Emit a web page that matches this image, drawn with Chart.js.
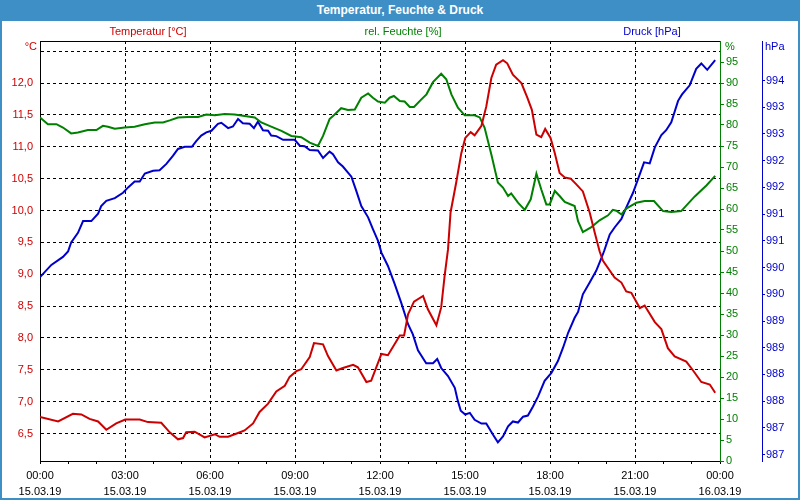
<!DOCTYPE html>
<html>
<head>
<meta charset="utf-8">
<script src="https://cdn.jsdelivr.net/npm/chart.js@4.4.1/dist/chart.umd.min.js"></script>
<style>
  html, body { margin: 0; padding: 0; background: #ffffff; }
  #stage { position: relative; width: 800px; height: 500px; overflow: hidden; }
  #titlebar { position: absolute; left: 0; top: 0; width: 800px; height: 21px; background: #3d8fc6;
    color: #ffffff; font: bold 12px "Liberation Sans", Arial, sans-serif; line-height: 21px; text-align: center; }
  #frame { position: absolute; left: 0; top: 0; width: 800px; height: 500px; box-sizing: border-box;
    border: 2px solid #3d8fc6; pointer-events: none; }
  canvas { position: absolute; left: 0; top: 0; }
</style>
</head>
<body>
<div id="stage">
  <div id="titlebar">Temperatur, Feuchte &amp; Druck</div>
  <canvas id="c" width="800" height="500"></canvas>
  <div id="frame"></div>
</div>
<script>
// ---- data (hours since 15.03.19 00:00) ----
const tempHours = [0,0.64,1.16,1.46,1.75,2.05,2.34,2.69,3.01,3.52,
  3.81,4.28,4.58,4.87,5.05,5.16,5.46,5.81,6.17,6.34,
  6.64,6.99,7.22,7.52,7.75,8.05,8.34,8.64,8.81,9.05,
  9.22,9.52,9.67,9.99,10.16,10.46,10.69,11.05,11.22,11.52,
  11.69,12.05,12.28,12.70,12.85,12.99,13.20,13.52,13.69,13.99,
  14.16,14.28,14.40,14.49,14.69,14.87,15.01,15.20,15.34,15.58,
  15.75,15.93,16.10,16.34,16.49,16.69,16.99,17.20,17.36,17.52,
  17.69,17.83,18.02,18.17,18.34,18.52,18.73,18.93,19.16,19.40,
  19.58,19.75,19.87,20.28,20.52,20.69,20.87,21.17,21.34,21.70,
  21.93,22.16,22.40,22.81,23.05,23.34,23.64,23.83];
const tempValues = [6.76,6.69,6.81,6.80,6.73,6.69,6.56,6.66,6.72,6.72,
  6.68,6.67,6.52,6.41,6.43,6.52,6.53,6.44,6.49,6.45,
  6.45,6.51,6.55,6.66,6.84,6.97,7.16,7.25,7.39,7.48,
  7.51,7.70,7.92,7.90,7.72,7.49,7.53,7.58,7.54,7.31,
  7.33,7.75,7.73,8.04,8.04,8.37,8.57,8.66,8.45,8.20,
  8.48,8.97,9.39,9.97,10.44,10.90,11.14,11.23,11.18,11.33,
  11.63,12.08,12.29,12.36,12.31,12.13,12.00,11.77,11.58,11.19,
  11.15,11.28,11.14,10.90,10.59,10.52,10.50,10.41,10.30,9.97,
  9.65,9.36,9.21,8.95,8.87,8.73,8.71,8.47,8.51,8.25,
  8.14,7.84,7.71,7.63,7.49,7.31,7.27,7.14];

const humHours = [0,0.28,0.58,0.81,1.10,1.34,1.69,1.99,2.22,2.40,
  2.64,2.99,3.34,3.70,4.05,4.34,4.58,4.87,5.22,5.58,
  5.87,6.17,6.52,6.87,7.28,7.58,7.81,8.16,8.52,8.87,
  9.22,9.52,9.81,9.99,10.22,10.40,10.63,10.87,11.11,11.34,
  11.58,11.75,11.93,12.17,12.34,12.49,12.70,12.87,13.05,13.20,
  13.46,13.64,13.87,14.16,14.34,14.52,14.75,14.99,15.34,15.52,
  15.69,15.93,16.16,16.34,16.52,16.63,16.87,17.11,17.32,17.52,
  17.69,17.87,17.99,18.17,18.34,18.52,18.87,18.99,19.16,19.46,
  19.75,20.05,20.22,20.34,20.52,20.69,21.05,21.34,21.67,21.99,
  22.28,22.63,23.11,23.52,23.83];
const humValues = [81.8,80.2,80.2,79.4,78.0,78.2,78.8,78.8,79.8,79.6,
  79.1,79.4,79.6,80.2,80.6,80.6,81.1,81.8,81.9,81.9,
  82.5,82.3,82.6,82.5,82.1,81.8,80.6,79.6,78.6,77.4,
  77.1,75.8,75.0,77.4,81.4,82.5,84.0,83.6,83.7,86.5,
  87.5,86.5,85.6,85.3,86.5,86.9,85.7,85.6,84.3,84.3,
  86.1,87.3,90.2,92.2,90.9,87.3,84.1,82.3,82.3,81.8,
  79.4,73.0,66.3,65.1,63.1,63.7,61.5,59.8,62.3,68.4,
  64.7,61.1,61.1,64.3,63.1,61.7,60.7,57.1,54.5,55.7,
  57.3,58.5,59.8,59.6,58.7,60.1,61.5,61.9,61.9,59.5,
  59.3,59.5,63.0,65.6,67.9];

const pressHours = [0,0.40,0.81,0.99,1.10,1.34,1.52,1.81,2.05,2.16,
  2.34,2.64,2.93,3.11,3.34,3.52,3.70,3.99,4.22,4.46,
  4.69,4.87,5.11,5.36,5.52,5.69,5.87,6.05,6.28,6.40,
  6.64,6.81,6.99,7.16,7.40,7.55,7.69,7.87,8.05,8.16,
  8.34,8.58,8.99,9.17,9.34,9.52,9.81,9.99,10.22,10.34,
  10.52,10.69,10.99,11.16,11.34,11.58,11.75,11.93,12.05,12.28,
  12.52,12.75,12.99,13.16,13.34,13.63,13.87,14.02,14.16,14.40,
  14.64,14.75,14.85,15.01,15.17,15.34,15.58,15.75,15.99,16.16,
  16.34,16.52,16.69,16.87,17.05,17.22,17.40,17.58,17.81,18.05,
  18.28,18.46,18.64,18.87,18.99,19.16,19.40,19.63,19.81,19.91,
  20.11,20.28,20.52,20.69,20.93,21.11,21.32,21.52,21.70,21.93,
  22.10,22.28,22.52,22.66,22.93,23.16,23.34,23.55,23.83];
const pressValues = [990.32,990.55,990.70,990.80,990.97,991.15,991.37,991.37,991.51,991.65,
  991.75,991.80,991.90,992.00,992.11,992.11,992.26,992.31,992.32,992.44,
  992.59,992.72,992.76,992.76,992.87,992.97,993.03,993.06,993.19,993.21,
  993.11,993.14,993.28,993.20,993.19,993.11,993.23,993.07,993.06,992.97,
  992.96,992.89,992.89,992.78,992.77,992.70,992.69,992.55,992.67,992.62,
  992.47,992.39,992.20,991.94,991.65,991.44,991.22,991.00,990.78,990.53,
  990.19,989.84,989.44,989.25,988.95,988.71,988.71,988.79,988.62,988.47,
  988.25,988.00,987.82,987.75,987.78,987.65,987.58,987.58,987.37,987.23,
  987.34,987.53,987.62,987.60,987.71,987.73,987.90,988.09,988.38,988.53,
  988.75,989.00,989.28,989.56,989.67,990.00,990.22,990.44,990.67,990.81,
  991.12,991.25,991.41,991.62,991.90,992.16,992.47,992.45,992.75,992.98,
  993.07,993.22,993.62,993.74,993.91,994.22,994.32,994.20,994.38];

// ---- tick labels ----
const timeTicks = [0,3,6,9,12,15,18,21,24];
const timeLabels = ['00:00','03:00','06:00','09:00','12:00','15:00','18:00','21:00','00:00'];
const dateLabels = ['15.03.19','15.03.19','15.03.19','15.03.19','15.03.19','15.03.19','15.03.19','15.03.19','16.03.19'];
const tempTicks = [6.5,7.0,7.5,8.0,8.5,9.0,9.5,10.0,10.5,11.0,11.5,12.0,12.5];
const humTicks = [0,5,10,15,20,25,30,35,40,45,50,55,60,65,70,75,80,85,90,95];
const pressTicks = [987,987.5,988,988.5,989,989.5,990,990.5,991,991.5,992,992.5,993,993.5,994];
const seriesNames = ['Temperatur [°C]', 'rel. Feuchte [%]', 'Druck [hPa]'];
const unitNames = ['°C', '%', 'hPa'];

const RED = '#cc0000', GREEN = '#008000', BLUE = '#0000cc';
const FONT = '"Liberation Sans", Arial, sans-serif';

function pts(xs, ys) { return xs.map((x, i) => ({ x: x, y: ys[i] })); }
function setTicks(list) { return function (scale) { scale.ticks = list.map(v => ({ value: v })); }; }

const extras = {
  id: 'extras',
  afterDraw(chart) {
    const ctx = chart.ctx, a = chart.chartArea;
    ctx.save();
    // top frame line of the plot
    ctx.strokeStyle = '#000'; ctx.lineWidth = 1;
    ctx.beginPath(); ctx.moveTo(a.left, Math.round(a.top) + 0.5); ctx.lineTo(a.right, Math.round(a.top) + 0.5); ctx.stroke();
    // series names
    ctx.font = '11px ' + FONT; ctx.textBaseline = 'middle'; ctx.textAlign = 'center';
    ctx.fillStyle = RED;   ctx.fillText(seriesNames[0], 148, 32);
    ctx.fillStyle = GREEN; ctx.fillText(seriesNames[1], 403, 32);
    ctx.fillStyle = BLUE;  ctx.fillText(seriesNames[2], 652, 32);
    // unit labels
    ctx.textAlign = 'right'; ctx.fillStyle = RED; ctx.fillText(unitNames[0], 37, 47);
    const h = chart.scales.yH, p = chart.scales.yP;
    ctx.textAlign = 'left';
    ctx.fillStyle = GREEN; ctx.fillText(unitNames[1], h.left + 5, 47);
    ctx.fillStyle = BLUE;  ctx.fillText(unitNames[2], p.left + 3, 47);
    ctx.restore();
  }
};

new Chart(document.getElementById('c'), {
  type: 'line',
  data: {
    datasets: [
      { label: seriesNames[0], data: pts(tempHours, tempValues), yAxisID: 'yT', borderColor: RED, borderWidth: 2, pointRadius: 0, tension: 0 },
      { label: seriesNames[1], data: pts(humHours, humValues), yAxisID: 'yH', borderColor: GREEN, borderWidth: 2, pointRadius: 0, tension: 0 },
      { label: seriesNames[2], data: pts(pressHours, pressValues), yAxisID: 'yP', borderColor: BLUE, borderWidth: 2, pointRadius: 0, tension: 0 }
    ]
  },
  options: {
    responsive: false,
    animation: false,
    devicePixelRatio: 1,
    layout: { padding: { top: 41, left: 0, right: 0, bottom: 0 } },
    plugins: { legend: { display: false }, tooltip: { enabled: false }, title: { display: false } },
    scales: {
      x: {
        type: 'linear', position: 'bottom', min: 0, max: 24,
        afterBuildTicks: function (scale) {
          const t = []; for (let i = 0; i <= 24; i++) t.push({ value: i }); scale.ticks = t;
        },
        afterFit: function (scale) { scale.height = 39; },
        ticks: {
          autoSkip: false, maxRotation: 0, minRotation: 0, padding: 4, color: '#000',
          font: { family: FONT, size: 11, lineHeight: 1.45 },
          callback: function (v) { const i = timeTicks.indexOf(v); return i >= 0 ? [timeLabels[i], dateLabels[i]] : ''; }
        },
        grid: {
          color: function (c) { return (c.tick && c.tick.value % 3 === 0) ? '#000' : 'rgba(0,0,0,0)'; },
          lineWidth: 1, drawTicks: true, tickLength: 3, tickColor: '#000', tickWidth: 1
        },
        border: { display: true, color: '#000', width: 1, dash: [3, 3] }
      },
      yT: {
        type: 'linear', position: 'left', min: 6.07, max: 12.66,
        afterBuildTicks: setTicks(tempTicks),
        afterFit: function (scale) { scale.width = 40; },
        ticks: {
          color: RED, padding: 7, font: { family: FONT, size: 11 },
          callback: function (v) { return v === 12.5 ? '' : v.toFixed(1).replace('.', ','); }
        },
        grid: { color: '#000', lineWidth: 1, drawTicks: false },
        border: { display: true, color: '#000', width: 1, dash: [3, 3] }
      },
      yH: {
        type: 'linear', position: 'right', min: 0, max: 100,
        afterBuildTicks: setTicks(humTicks),
        afterFit: function (scale) { scale.width = 42; },
        ticks: { color: GREEN, padding: 2, font: { family: FONT, size: 11 }, callback: function (v) { return String(v); } },
        grid: { drawOnChartArea: false, drawTicks: true, tickLength: 4, tickColor: GREEN, color: GREEN },
        border: { display: true, color: GREEN, width: 1 }
      },
      yP: {
        type: 'linear', position: 'right', min: 986.88, max: 994.74,
        afterBuildTicks: setTicks(pressTicks),
        afterFit: function (scale) { scale.width = 38; },
        ticks: { color: BLUE, padding: 1, font: { family: FONT, size: 11 }, callback: function (v) { return String(Math.floor(v)); } },
        grid: { drawOnChartArea: false, drawTicks: true, tickLength: 3, tickColor: BLUE, color: BLUE },
        border: { display: true, color: BLUE, width: 1 }
      }
    }
  },
  plugins: [extras]
});
</script>
</body>
</html>
